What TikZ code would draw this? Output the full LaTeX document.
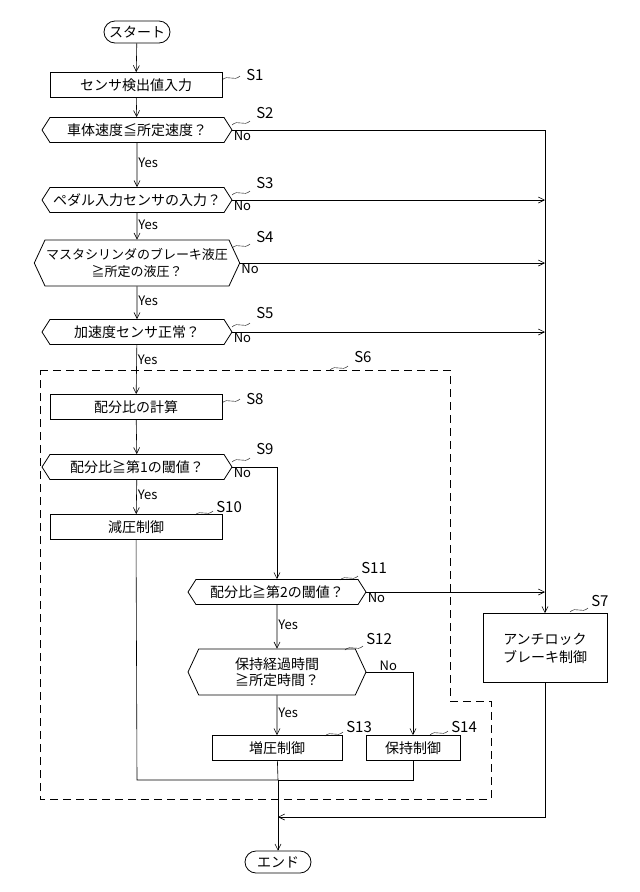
\documentclass[tikz,border=0pt]{standalone}
\usepackage{fontspec}
\setmainfont{Noto Sans CJK JP}
\usetikzlibrary{shapes.symbols,arrows.meta}
\tikzset{
  every path/.style={semithick},
  box/.style={draw,thick,rectangle,minimum height=25,inner sep=2pt,font=\fontsize{14}{16}\selectfont},
  hexa/.style={draw,thick,signal,signal to=west and east,signal pointer angle=115,minimum height=25,inner sep=1pt,align=center,font=\fontsize{14}{16}\selectfont},
  term/.style={draw,thick,rounded corners=11,minimum width=66,minimum height=22,font=\fontsize{14}{16}\selectfont},
  lbl/.style={font=\fontsize{15}{17}\selectfont,anchor=south west,inner sep=1pt},
  yn/.style={font=\fontsize{13}{15}\selectfont,inner sep=1pt},
  flow/.style={-{Straight Barb[length=6,width=6]}},
}
\newcommand{\stepmark}[3]{% node anchor, label position, text
  \draw[thin] (#1) .. controls +(6,-6) and +(-6,6) .. +(18,-4) coordinate (tmp);
  \node[lbl] at (#2) {#3};
}
\begin{document}
\begin{tikzpicture}[x=1pt,y=-1pt]
\useasboundingbox (0,0) rectangle (640,892);
% main column
\node[term] (start) at (137,32) {スタート};
\node[box,minimum width=172] (s1) at (136,85) {センサ検出値入力};
\node[hexa,minimum width=190] (s2) at (137,130) {車体速度≦所定速度？};
\node[hexa,minimum width=190] (s3) at (137,200) {ペダル入力センサの入力？};
\node[hexa,minimum width=190,minimum height=46,signal pointer angle=130,font=\fontsize{13}{17}\selectfont] (s4) at (137,263) {マスタシリンダのブレーキ液圧\\≧所定の液圧？};
\node[hexa,minimum width=190] (s5) at (137,332) {加速度センサ正常？};
\node[box,minimum width=172] (s8) at (136,407) {配分比の計算};
\node[hexa,minimum width=190] (s9) at (137,467) {配分比≧第1の閾値？};
\node[box,minimum width=172] (s10) at (136,527) {減圧制御};
\node[hexa,minimum width=178] (s11) at (277,592) {配分比≧第2の閾値？};
\node[hexa,minimum width=178,minimum height=46,signal pointer angle=130] (s12) at (277,672) {保持経過時間\\≧所定時間？};
\node[box,minimum width=130] (s13) at (277,748) {増圧制御};
\node[box,minimum width=94] (s14) at (413,748) {保持制御};
\node[box,minimum width=124,minimum height=69,align=center,font=\fontsize{14}{18}\selectfont] (s7) at (545,648) {アンチロック\\ブレーキ制御};
\node[term] (end) at (278,862) {エンド};
% helper points
\coordinate (rtop) at (545,130);
\coordinate (m1) at (137,780);
\coordinate (m2) at (278,780);
\coordinate (m3) at (413,780);
\coordinate (m4) at (278,817);
\coordinate (m5) at (545,817);
% connectors
\draw[flow] (start) -- (s1);
\draw[flow] (s1) -- (s2);
\draw[flow] (s2) -- node[yn,right,pos=0.45] {Yes} (s3);
\draw[flow] (s3) -- node[yn,right,pos=0.45] {Yes} (s4);
\draw[flow] (s4) -- node[yn,right,pos=0.45] {Yes} (s5);
\draw[flow] (s5) -- node[yn,right,pos=0.3] {Yes} (s8);
\draw[flow] (s8) -- (s9);
\draw[flow] (s9) -- node[yn,right,pos=0.45] {Yes} (s10);
\draw[flow] (s9.east) -| (s11.north);
\draw[flow] (s11) -- node[yn,right,pos=0.45] {Yes} (s12);
\draw[flow] (s12) -- node[yn,right,pos=0.45] {Yes} (s13);
\draw[flow] (s12.east) -| (s14.north);
\draw (s2.east) -- (rtop);
\draw[flow] (rtop) -- (s7.north);
\draw[flow] (s3.east) -- (s3.east -| rtop);
\draw[flow] (s4.east) -- (s4.east -| rtop);
\draw[flow] (s5.east) -- (s5.east -| rtop);
\draw[flow] (s11.east) -- (s11.east -| rtop);
\draw (s10) -- (m1) -- (m2);
\draw (s14) -- (m3) -- (m2);
\draw (s13) -- (m2);
\draw[flow] (s7) -- (m5) -- (m4);
\draw[flow] (m2) -- (end);
% No labels
\foreach \n in {s2,s3,s4,s5,s9,s11}{
  \node[yn,anchor=north west] at (\n.east) {No};
}
\node[yn,anchor=south west] at ([xshift=12]s12.east) {No};
% S6 region
\draw[thick,dash pattern=on 8pt off 5pt] (40,370) -- (450,370) -- (450,701) -- (491,701) -- (491,799) -- (40,799) -- cycle;
% step labels
\stepmark{222,80}{245,82}{S1}
\stepmark{232,125}{255,120}{S2}
\stepmark{232,195}{255,190}{S3}
\stepmark{232,248}{255,244}{S4}
\stepmark{232,327}{255,320}{S5}
\stepmark{330,370}{353,364}{S6}
\stepmark{222,403}{245,406}{S8}
\stepmark{232,462}{255,456}{S9}
\stepmark{195,515}{215,514}{S10}
\stepmark{340,580}{360,575}{S11}
\stepmark{345,650}{365,646}{S12}
\stepmark{325,736}{345,734}{S13}
\stepmark{430,735}{450,734}{S14}
\stepmark{570,612}{590,608}{S7}
\end{tikzpicture}
\end{document}
